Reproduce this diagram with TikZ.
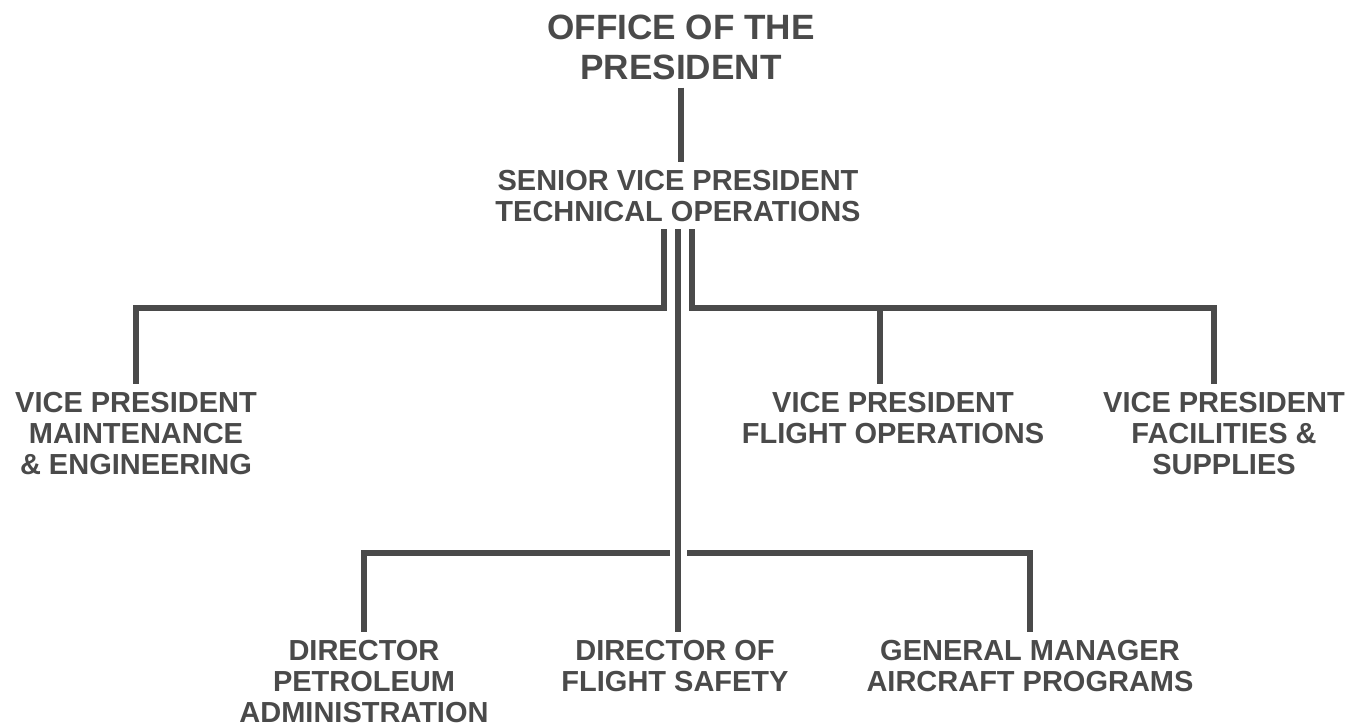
\documentclass[tikz,border=0pt]{standalone}
\usepackage{fontspec}
\setmainfont{Liberation Sans}
\definecolor{ink}{HTML}{4A4A4A}
\begin{document}
\begin{tikzpicture}[x=0.02cm, y=-0.02cm, line width=0.12cm, draw=ink,
    every node/.style={anchor=north, align=center, inner sep=0.1cm, text depth=0pt, text=ink,
      font=\bfseries\fontsize{16.5}{17.6}\selectfont}]
      \useasboundingbox (0,0) rectangle (1367,727);
      \node (pres) at (681,7) [font=\bfseries\fontsize{20}{22.8}\selectfont] {OFFICE OF THE\\PRESIDENT};
      \node (svp) at (678,162) {SENIOR VICE PRESIDENT\\TECHNICAL OPERATIONS};
      \node (vpme) at (136,384) {VICE PRESIDENT\\MAINTENANCE\\\& ENGINEERING};
      \node (vpfo) at (893,384) {VICE PRESIDENT\\FLIGHT OPERATIONS};
      \node (vpfs) at (1224,384) {VICE PRESIDENT\\FACILITIES \&\\SUPPLIES};
      \node (dpa) at (364,632) {DIRECTOR\\PETROLEUM\\ADMINISTRATION};
      \node (dfs) at (675,632) {DIRECTOR OF\\FLIGHT SAFETY};
      \node (gm) at (1030,632) {GENERAL MANAGER\\AIRCRAFT PROGRAMS};
      \coordinate (tl) at (664,308);
      \coordinate (tr) at (692,308);
      \coordinate (tfo) at (880,308);
      \coordinate (bl) at (670,553);
      \coordinate (br) at (687,553);
      \draw (pres.south) -- (pres.south |- svp.north);
      \draw (svp.south -| tl) -- (tl) -| (vpme.north);
      \draw (svp.south -| tr) -- (tr) -| ([xshift=-0.2cm]vpfs.north);
      \draw (tfo) -- (tfo |- vpfo.north);
      \draw (svp.south) -- (svp.south |- dfs.north);
      \draw (bl) -| (dpa.north);
      \draw (br) -| (gm.north);
    \end{tikzpicture}
\end{document}
